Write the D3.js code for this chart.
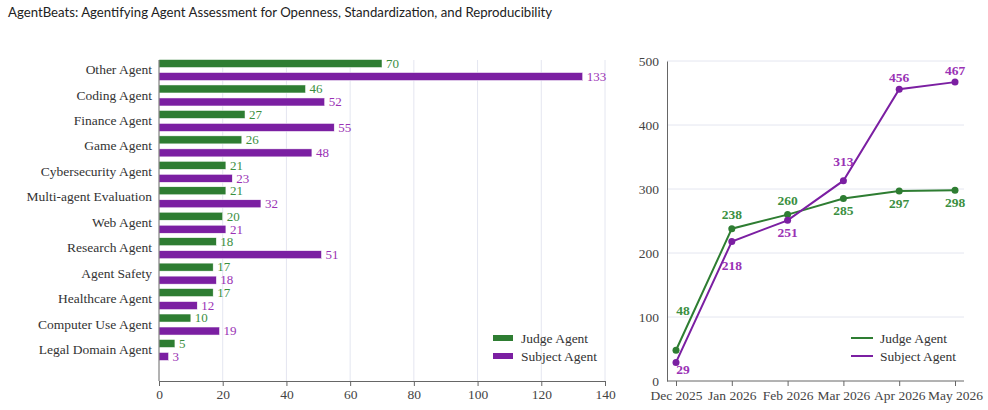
<!DOCTYPE html>
<html>
<head>
<meta charset="utf-8">
<script src="https://cdn.jsdelivr.net/npm/d3@7"></script>
<style>
  body { margin: 0; background: #fff; }
  svg { display: block; }
  .title { font-family: Lato, "Open Sans", sans-serif; font-size: 13.2px; fill: #222; }
  .tick text, .lbl { font-family: "Liberation Serif", "DejaVu Serif", serif; }
</style>
</head>
<body>
<svg id="chart" width="988" height="410"></svg>
<script>
// categories and counts for the bar chart
const categories = ["Other Agent", "Coding Agent", "Finance Agent", "Game Agent", "Cybersecurity Agent",
  "Multi-agent Evaluation", "Web Agent", "Research Agent", "Agent Safety", "Healthcare Agent",
  "Computer Use Agent", "Legal Domain Agent"];
const judgeCounts = [70, 46, 27, 26, 21, 21, 20, 18, 17, 17, 10, 5];
const subjectCounts = [133, 52, 55, 48, 23, 32, 21, 51, 18, 12, 19, 3];
const barTicks = [0, 20, 40, 60, 80, 100, 120, 140];

// cumulative totals by month for the line chart
const months = ["Dec 2025", "Jan 2026", "Feb 2026", "Mar 2026", "Apr 2026", "May 2026"];
const judgeTotals = [48, 238, 260, 285, 297, 298];
const subjectTotals = [29, 218, 251, 313, 456, 467];
const lineTicks = [0, 100, 200, 300, 400, 500];
const seriesNames = ["Judge Agent", "Subject Agent"];

const green = "#2e7d32", purple = "#7b1fa2";
const greenText = "#3b8f3f", purpleText = "#9a32b5";
const axisGray = "#666", gridColor = "#e4e6f0", tickText = "#444";

const svg = d3.select("#chart");

svg.append("text").attr("class", "title")
  .attr("x", 8).attr("y", 17)
  .text("AgentBeats: Agentifying Agent Assessment for Openness, Standardization, and Reproducibility");

// ---------- left: horizontal grouped bars ----------
const L = {left: 159, right: 605, top: 60, bottom: 381};
const x = d3.scaleLinear().domain([0, 140]).range([L.left, L.right]);
const y = d3.scaleBand().domain(categories).range([57.3, 362.7]);

const left = svg.append("g");

left.append("g").selectAll("line")
  .data(barTicks.slice(1))
  .join("line")
  .attr("x1", d => x(d)).attr("x2", d => x(d))
  .attr("y1", L.top).attr("y2", L.bottom)
  .attr("stroke", gridColor).attr("stroke-width", 1);

const barH = 8;
const groups = [
  {vals: judgeCounts, fill: green, text: greenText, off: -6.5},
  {vals: subjectCounts, fill: purple, text: purpleText, off: 6.5}
];
groups.forEach(s => {
  const g = left.append("g");
  g.selectAll("rect")
    .data(categories)
    .join("rect")
    .attr("x", x(0))
    .attr("y", (d) => y(d) + y.bandwidth() / 2 + s.off - barH / 2)
    .attr("width", (d, i) => x(s.vals[i]) - x(0))
    .attr("height", barH)
    .attr("fill", s.fill)
    .attr("stroke", "#fff").attr("stroke-width", 0.5);
  g.selectAll("text")
    .data(categories)
    .join("text")
    .attr("class", "lbl")
    .attr("x", (d, i) => x(s.vals[i]) + 4)
    .attr("y", d => y(d) + y.bandwidth() / 2 + s.off)
    .attr("dy", "0.33em")
    .attr("font-size", 13)
    .attr("fill", s.text)
    .text((d, i) => s.vals[i]);
});

// category labels
left.append("g").selectAll("text")
  .data(categories)
  .join("text")
  .attr("class", "lbl")
  .attr("x", L.left - 7)
  .attr("y", d => y(d) + y.bandwidth() / 2)
  .attr("dy", "0.3em")
  .attr("text-anchor", "end")
  .attr("font-size", 13.5)
  .attr("fill", "#333")
  .text(d => d);

left.append("line")
  .attr("x1", L.left).attr("x2", L.left)
  .attr("y1", L.top).attr("y2", L.bottom)
  .attr("stroke", axisGray);

const xAxis = left.append("g")
  .attr("transform", `translate(0,${L.bottom})`)
  .call(d3.axisBottom(x).tickValues(barTicks).tickSize(5).tickSizeOuter(0));
xAxis.select(".domain").attr("stroke", axisGray);
xAxis.selectAll(".tick line").attr("stroke", axisGray);
xAxis.selectAll(".tick text").attr("font-size", 13.5).attr("fill", tickText).attr("dy", "0.75em");

// legend (bars)
const legL = left.append("g").attr("transform", "translate(493,338)");
[green, purple].forEach((c, i) => {
  legL.append("rect").attr("x", 0).attr("y", i * 18 - 3).attr("width", 20).attr("height", 6).attr("fill", c);
  legL.append("text").attr("class", "lbl").attr("x", 28).attr("y", i * 18).attr("dy", "0.35em")
    .attr("font-size", 13.5).attr("fill", "#333").text(seriesNames[i]);
});

// ---------- right: cumulative lines ----------
const R = {left: 667, right: 964, top: 61, bottom: 381};
const xp = d3.scalePoint().domain(months).range([676, 955]);
const yl = d3.scaleLinear().domain([0, 500]).range([R.bottom, R.top]);

const right = svg.append("g");

right.append("g").selectAll("line")
  .data(lineTicks.slice(1))
  .join("line")
  .attr("x1", R.left).attr("x2", R.right)
  .attr("y1", d => yl(d)).attr("y2", d => yl(d))
  .attr("stroke", gridColor);

const yAxis = right.append("g")
  .attr("transform", `translate(${R.left},0)`)
  .call(d3.axisLeft(yl).tickValues(lineTicks).tickSize(0).tickPadding(8));
yAxis.select(".domain").attr("stroke", axisGray);
yAxis.selectAll(".tick text").attr("font-size", 13.5).attr("fill", tickText);

const xAxisR = right.append("g")
  .attr("transform", `translate(0,${R.bottom})`)
  .call(d3.axisBottom(xp).tickSize(5).tickSizeOuter(0));
xAxisR.select(".domain").attr("d", `M${R.left},0H${R.right}`).attr("stroke", axisGray);
xAxisR.selectAll(".tick line").attr("stroke", axisGray);
xAxisR.selectAll(".tick text").attr("font-size", 13.5).attr("fill", tickText).attr("dy", "0.8em");

// label placement for each point: [dx, dy]
const judgeLabelPos = [[7, -40], [0, -14], [0, -14], [0, 12], [0, 12], [0, 12]];
const subjectLabelPos = [[7, 7], [0, 24], [0, 12], [0, -19], [0, -12], [0, -12]];

const line = d3.line().x((d, i) => xp(months[i])).y(d => yl(d));
[
  {vals: judgeTotals, c: green, t: greenText, pos: judgeLabelPos},
  {vals: subjectTotals, c: purple, t: purpleText, pos: subjectLabelPos}
].forEach(s => {
  const g = right.append("g");
  g.append("path").attr("d", line(s.vals)).attr("fill", "none").attr("stroke", s.c).attr("stroke-width", 2);
  g.selectAll("circle").data(s.vals).join("circle")
    .attr("cx", (d, i) => xp(months[i])).attr("cy", d => yl(d)).attr("r", 3.5).attr("fill", s.c);
  g.selectAll("text").data(s.vals).join("text")
    .attr("class", "lbl")
    .attr("x", (d, i) => xp(months[i]) + s.pos[i][0])
    .attr("y", (d, i) => yl(d) + s.pos[i][1])
    .attr("dy", "0.35em")
    .attr("text-anchor", "middle")
    .attr("font-size", 13.5).attr("font-weight", "bold")
    .attr("fill", s.t)
    .text(d => d);
});

// legend (lines)
const legR = right.append("g").attr("transform", "translate(851,338)");
[green, purple].forEach((c, i) => {
  legR.append("line").attr("x1", 0).attr("x2", 22).attr("y1", i * 18).attr("y2", i * 18)
    .attr("stroke", c).attr("stroke-width", 2);
  legR.append("text").attr("class", "lbl").attr("x", 29).attr("y", i * 18).attr("dy", "0.35em")
    .attr("font-size", 13.5).attr("fill", "#333").text(seriesNames[i]);
});
</script>
</body>
</html>
